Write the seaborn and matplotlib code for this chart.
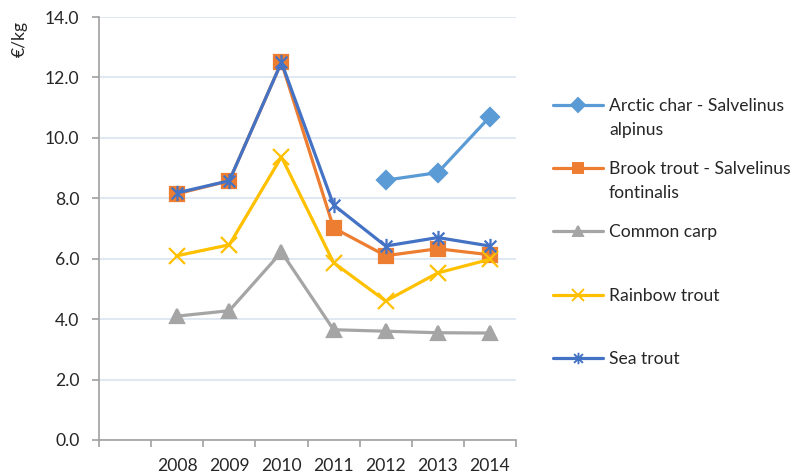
import numpy as np
import seaborn as sns
import matplotlib.pyplot as plt
from matplotlib.path import Path
from matplotlib.lines import Line2D

# data (EUR per kg)
years = [2008, 2009, 2010, 2011, 2012, 2013, 2014]
arctic_years = [2012, 2013, 2014]
arctic_char = [8.6, 8.85, 10.7]
brook_trout = [8.15, 8.58, 12.5, 7.02, 6.1, 6.33, 6.13]
common_carp = [4.1, 4.28, 6.22, 3.65, 3.6, 3.55, 3.54]
rainbow_trout = [6.1, 6.46, 9.37, 5.87, 4.6, 5.53, 5.98]
sea_trout = [8.18, 8.58, 12.5, 7.78, 6.42, 6.7, 6.42]

names = ["Arctic char - Salvelinus", "Brook trout - Salvelinus", "Common carp",
         "Rainbow trout", "Sea trout"]
second_lines = ["alpinus", "fontinalis", None, None, None]
colors = ["#5B9BD5", "#ED7D31", "#A5A5A5", "#FFC000", "#4472C4"]

# excel style asterisk: X plus a vertical bar
star = Path([(-1, -1), (1, 1), (-1, 1), (1, -1), (0, -1.3), (0, 1.3)],
            [Path.MOVETO, Path.LINETO, Path.MOVETO, Path.LINETO, Path.MOVETO, Path.LINETO])
markers = ["D", "s", "^", "x", star]
msizes = [9.5, 10, 10, 11, 11]
fs = 12.6

sns.set_style("white")
plt.rcParams['font.family'] = ['Lato', 'DejaVu Sans']

fig = plt.figure(figsize=(7.99, 4.76), dpi=100)
ax = fig.add_axes([99 / 799, 1 - 440 / 476, 417 / 799, 423 / 476])

series = [(arctic_years, arctic_char), (years, brook_trout), (years, common_carp),
          (years, rainbow_trout), (years, sea_trout)]
for (xs, ys), name, c, m, ms in zip(series, names, colors, markers, msizes):
    sns.lineplot(x=xs, y=ys, ax=ax, color=c, lw=2.3, marker=m, markersize=ms,
                 markeredgecolor=c, markerfacecolor=c, markeredgewidth=1.6)

ax.set_xlim(2006.5, 2014.5)
ax.set_ylim(0, 14)
ax.set_yticks(np.arange(0, 14.1, 2))
ax.set_yticklabels([f"{v:.1f}" for v in np.arange(0, 14.1, 2)])
ax.set_xticks(years)
ax.set_xticklabels([str(y) for y in years])
ax.set_xticks(np.arange(2006.5, 2014.6, 1), minor=True)

grey = "#A0A0A0"
ax.grid(axis="y", color="#DCE6F2", lw=1.3)
ax.set_axisbelow(True)
for s in ["top", "right"]:
    ax.spines[s].set_visible(False)
for s in ["left", "bottom"]:
    ax.spines[s].set_color(grey)
    ax.spines[s].set_linewidth(1.2)
ax.tick_params(axis="y", direction="out", length=5, width=1.2, color=grey,
               pad=9, labelsize=fs, labelcolor="#262626", left=True)
ax.tick_params(axis="x", which="major", length=0, pad=13, labelsize=fs, labelcolor="#262626")
ax.tick_params(axis="x", which="minor", direction="out", length=5, width=1.2, color=grey, bottom=True)

ax.set_ylabel("€/kg", fontsize=fs, color="#262626")
ax.yaxis.set_label_coords(-0.17, 0.948)

handles = [Line2D([], [], color=c, lw=2.3, marker=m, markersize=ms * 0.75,
                  markeredgecolor=c, markerfacecolor=c, markeredgewidth=1.4)
           for c, m, ms in zip(colors, markers, msizes)]
leg = fig.legend(handles, names, loc="upper left", bbox_to_anchor=(553 / 799, 1 - 98 / 476),
                 frameon=False, fontsize=fs, handlelength=2.85, handletextpad=0.35,
                 labelspacing=2.7, borderpad=0, borderaxespad=0)
for t in leg.get_texts():
    t.set_color("#262626")

# second lines of the two long legend entries
fig.canvas.draw()
inv = fig.transFigure.inverted()
for t, extra in zip(leg.get_texts(), second_lines):
    if extra is None:
        continue
    bb = t.get_window_extent()
    x0, y0 = inv.transform((bb.x0, bb.y0))
    fig.text(x0, y0 - 8 / 476, extra, fontsize=fs, color="#262626", va="top", ha="left")

fig.savefig("out.png", dpi=100)
